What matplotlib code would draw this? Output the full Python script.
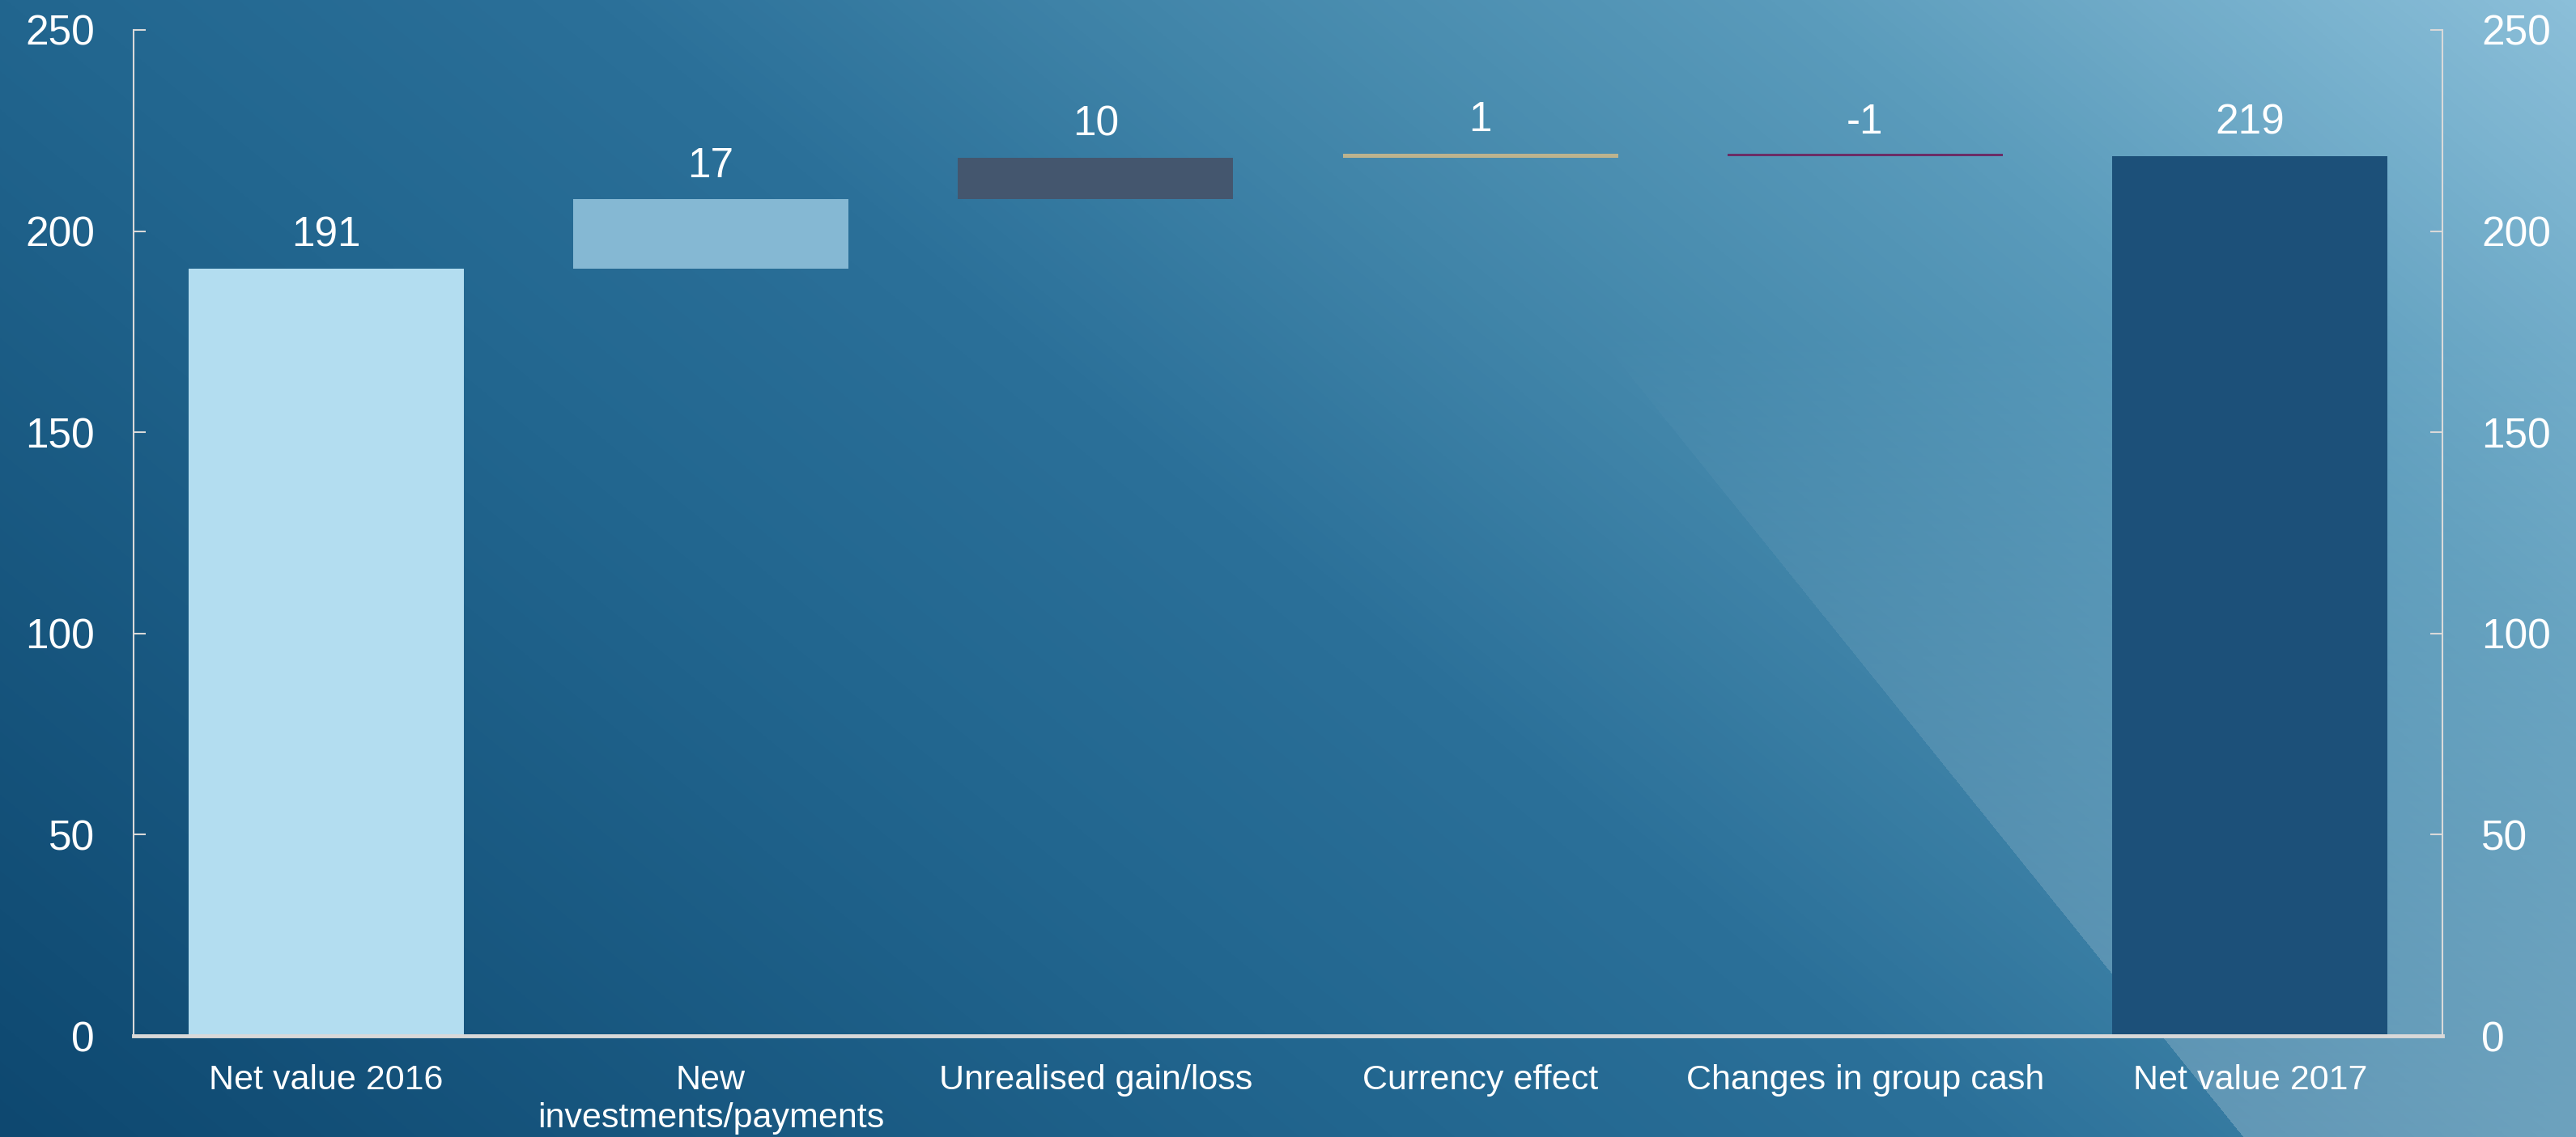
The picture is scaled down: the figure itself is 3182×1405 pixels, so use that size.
import numpy as np
import matplotlib
matplotlib.use("Agg")
import matplotlib.pyplot as plt
from matplotlib.colors import LinearSegmentedColormap

# ---- data -------------------------------------------------------------
categories = [
    "Net value 2016",
    "New\ninvestments/payments",
    "Unrealised gain/loss",
    "Currency effect",
    "Changes in group cash",
    "Net value 2017",
]
start_value = 190.7
changes = [17.2, 10.3, 1.1, -0.7]
end_value = 218.6
bar_colors = ["#B3DDF0", "#85B8D3", "#44566E", "#BCB38E", "#6B2D66", "#1C5079"]
y_ticks = [0, 50, 100, 150, 200, 250]

plt.rcParams["font.family"] = ["Liberation Sans", "DejaVu Sans"]

W, H, DPI = 3182, 1405, 100
fig = plt.figure(figsize=(W / DPI, H / DPI), dpi=DPI)

# ---- gradient backdrop -------------------------------------------------
yy, xx = np.mgrid[0:H, 0:W].astype(float)
u = xx / W
v = 1.0 - yy / H
t = np.clip(0.65 * u + 0.35 * v, 0, 1)
bg_cmap = LinearSegmentedColormap.from_list(
    "backdrop",
    [(0.0, "#0E4870"), (0.35, "#22668F"), (0.5, "#2B7099"),
     (0.64, "#4286AA"), (0.8, "#5A9BBB"), (1.0, "#8BBFD9")],
)
rgb = bg_cmap(t)[..., :3]
# translucent light wedge in the lower right
inside = xx > 1640 + yy * 0.805
alpha = np.clip(0.21 * (yy - 420) / 930, 0, 1) * inside
rgb = rgb + (1 - rgb) * alpha[..., None]

bg = fig.add_axes([0, 0, 1, 1], zorder=0)
bg.imshow(rgb, aspect="auto", extent=(0, 1, 0, 1), interpolation="bilinear")
bg.axis("off")

# ---- waterfall ----------------------------------------------------------
values = [start_value] + changes + [end_value]
bottoms, heights = [0.0], [start_value]
level = start_value
for d in changes:
    if d >= 0:
        bottoms.append(level)
        heights.append(d)
    else:
        bottoms.append(level + d)
        heights.append(-d)
    level += d
bottoms.append(0.0)
heights.append(end_value)

ax = fig.add_axes([165 / W, (H - 1280) / H, (3017 - 165) / W, (1280 - 37) / H], zorder=1)
ax.patch.set_alpha(0)
x = np.arange(len(categories))
ax.bar(x, heights, bottom=bottoms, width=0.715, color=bar_colors, linewidth=0, zorder=2)

# value labels: above the top edge, or above the lower edge for a decrease
for i, (xi, b, h, val) in enumerate(zip(x, bottoms, heights, values)):
    is_decrease = 0 < i < len(values) - 1 and val < 0
    anchor = b if is_decrease else b + h
    ax.annotate(f"{int(round(val))}", xy=(xi, anchor), xytext=(0, 20),
                textcoords="offset points", ha="center", va="baseline",
                fontsize=37, color="white")

ax.set_xlim(-0.5, len(categories) - 0.5)
ax.set_ylim(0, 250)
ax.set_yticks(y_ticks)
ax.set_xticks(x)
ax.set_xticklabels(categories)
for lbl in ax.get_xticklabels():
    lbl.set_linespacing(1.25)

spine_col = "#D9D9D9"
ax.spines["top"].set_visible(False)
for side in ("left", "right"):
    ax.spines[side].set_color(spine_col)
    ax.spines[side].set_linewidth(1.5)
ax.spines["bottom"].set_color(spine_col)
ax.spines["bottom"].set_linewidth(3.5)

ax.yaxis.set_ticks_position("both")
ax.tick_params(axis="y", which="both", direction="in", length=11, width=1.5,
               color=spine_col, labelleft=True, labelright=True,
               labelsize=37, labelcolor="white", pad=34.5)
ax.tick_params(axis="x", length=0, pad=25, labelsize=31, labelcolor="white")

fig.savefig("out.png", dpi=DPI)
